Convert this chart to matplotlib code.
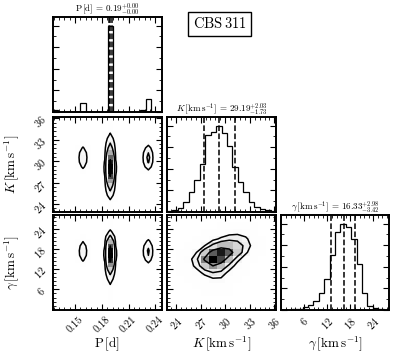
import numpy as np
import matplotlib
matplotlib.use("Agg")
import matplotlib.pyplot as plt
from matplotlib.colors import LinearSegmentedColormap
from matplotlib.ticker import AutoMinorLocator, MaxNLocator

plt.rcParams.update({
    "font.family": "serif",
    "font.serif": ["cmr10"],
    "mathtext.fontset": "cm",
    "axes.formatter.use_mathtext": True,
    "axes.unicode_minus": False,
})

# ---------------- data ----------------
P_range = (0.1253, 0.2473)
K_range = (22.9, 36.2)
g_range = (-0.1, 28.1)

P_ticks = [0.15, 0.18, 0.21, 0.24]
K_ticks = [24, 27, 30, 33, 36]
g_ticks = [6, 12, 18, 24]
P_ticklabels = ["0.15", "0.18", "0.21", "0.24"]

P_counts = [20, 0, 0, 0, 0, 105, 0, 0, 0, 0, 1000, 0, 0, 0, 0, 0, 20, 150, 0, 0]
K_counts = [0.01, 0.02, 0.05, 0.12, 0.23, 0.37, 0.56, 0.89, 0.93, 1.00,
            0.91, 0.77, 0.52, 0.35, 0.23, 0.12, 0.06, 0.04, 0.02, 0.01]
g_counts = [0.005, 0.005, 0.01, 0.015, 0.04, 0.06, 0.11, 0.20, 0.36, 0.64,
            0.90, 1.00, 0.96, 0.82, 0.53, 0.20, 0.05, 0.02, 0.01, 0.0]
# K and gamma profiles of the minor period modes
K_side = [0, 0, 0, 0, 0, 0, 0, 0, 0, 0.35, 0.85, 1.0, 0.75, 0.3, 0, 0, 0, 0, 0, 0]
g_side = [0, 0, 0, 0, 0, 0, 0, 0, 0, 0, 0.35, 0.85, 1.0, 0.65, 0.25, 0, 0, 0, 0, 0]

P_quant = [0.1880, 0.1894, 0.1908]
K_quant = [27.46, 29.19, 31.22]
g_quant = [12.91, 16.33, 19.31]

# K-gamma joint density (rows: gamma cells low->high, cols: K cells)
Kg_K_edges = [24, 25, 26, 27, 28, 29, 30, 31, 32, 33, 34, 35]
Kg_g_edges = [4, 6, 8, 10, 12, 14, 16, 18, 20, 22, 24, 26]
Kg_density = [
    [0, 0, 0, 1, 1, 1, 1, 0, 0, 0, 0],
    [0, 0, 1, 2, 4, 4, 2, 0, 0, 0, 0],
    [0, 1, 2, 6, 12, 12, 5, 1, 0, 0, 0],
    [1, 2, 8, 20, 30, 25, 10, 3, 1, 0, 0],
    [2, 6, 20, 45, 65, 50, 25, 8, 2, 0, 0],
    [2, 8, 25, 70, 100, 85, 50, 20, 6, 1, 0],
    [1, 4, 15, 45, 80, 95, 80, 45, 18, 4, 1],
    [0, 1, 5, 15, 35, 50, 50, 40, 25, 8, 1],
    [0, 0, 1, 4, 10, 18, 25, 25, 18, 6, 1],
    [0, 0, 0, 1, 2, 4, 8, 10, 8, 3, 0],
    [0, 0, 0, 0, 0, 1, 2, 3, 2, 1, 0],
]

titles = [r"$\mathrm{P\,[d]}\,=\,0.19^{+0.00}_{-0.00}$",
          r"$K\,[\mathrm{km\,s^{-1}}]\,=\,29.19^{+2.03}_{-1.73}$",
          r"$\gamma\,[\mathrm{km\,s^{-1}}]\,=\,16.33^{+2.98}_{-3.42}$"]
labels = [r"$\mathrm{P\,[d]}$", r"$K\,[\mathrm{km\,s^{-1}}]$", r"$\gamma\,[\mathrm{km\,s^{-1}}]$"]
star_name = r"$\mathrm{CBS\,311}$"

# ---------------- helpers ----------------
nb = 20
P_edges = np.linspace(*P_range, nb + 1)
K_edges = np.linspace(*K_range, nb + 1)
g_edges = np.linspace(*g_range, nb + 1)

density_cmap = LinearSegmentedColormap.from_list("dens", [(1, 1, 1, 0), (0, 0, 0, 1)])


def kernel(sigma):
    r = max(1, int(4 * sigma))
    k = np.exp(-0.5 * (np.arange(-r, r + 1) / sigma) ** 2)
    return k / k.sum()


def smooth(H, sx, sy):
    kx, ky = kernel(sx), kernel(sy)
    out = np.apply_along_axis(lambda v: np.convolve(v, kx, mode="same"), 0, H)
    out = np.apply_along_axis(lambda v: np.convolve(v, ky, mode="same"), 1, out)
    return out


def joint_from_modes(xcounts, main_profile, side_profile):
    xcounts = np.asarray(xcounts, float)
    main = np.asarray(main_profile, float)
    side = np.asarray(side_profile, float)
    imax = int(np.argmax(xcounts))
    H = np.zeros((len(xcounts), len(main)))
    for i, c in enumerate(xcounts):
        prof = main if i == imax else side
        H[i] = c * prof / prof.sum()
    return H


def levels_for(H):
    lv = 1.0 - np.exp(-0.5 * np.arange(0.5, 2.1, 0.5) ** 2)
    Hf = H.flatten()
    Hs = np.sort(Hf)[::-1]
    sm = np.cumsum(Hs)
    sm /= sm[-1]
    V = np.empty(len(lv))
    for i, v0 in enumerate(lv):
        try:
            V[i] = Hs[sm <= v0][-1]
        except IndexError:
            V[i] = Hs[0]
    V.sort()
    m = np.diff(V) == 0
    while np.any(m):
        V[np.where(m)[0][0]] *= 0.9
        m = np.diff(V) == 0
    return V


def hist2d(ax, xe, ye, H):
    xe = np.asarray(xe, float)
    ye = np.asarray(ye, float)
    xc = 0.5 * (xe[1:] + xe[:-1])
    yc = 0.5 * (ye[1:] + ye[:-1])
    ax.pcolormesh(xe, ye, H.T, cmap=density_cmap, vmin=0, vmax=H.max(), shading="flat")
    dx = xc[1] - xc[0]
    dy = yc[1] - yc[0]
    xc2 = np.concatenate([[xc[0] - dx], xc, [xc[-1] + dx]])
    yc2 = np.concatenate([[yc[0] - dy], yc, [yc[-1] + dy]])
    H2 = np.pad(H, 1)
    ax.contour(xc2, yc2, H2.T, levels_for(H), colors="k", linewidths=1.1)


def style(ax):
    ax.tick_params(which="both", direction="in", top=True, right=True)
    ax.tick_params(which="major", length=4, width=0.8)
    ax.tick_params(which="minor", length=2, width=0.6)
    for s in ax.spines.values():
        s.set_linewidth(1.4)


def hist1d(ax, counts, edges, quant, rng):
    counts = np.asarray(counts, float)
    ax.stairs(counts, edges, color="k", lw=0.9)
    for q in quant:
        ax.axvline(q, color="k", ls="--", lw=1.1)
    ax.set_xlim(rng)
    ax.set_ylim(0, 1.1 * counts.max())
    ax.yaxis.set_major_locator(MaxNLocator(5))
    ax.yaxis.set_minor_locator(AutoMinorLocator(2))
    ax.set_yticklabels([])


# ---------------- figure ----------------
fig = plt.figure(figsize=(4.11, 3.57), dpi=100)
W, Hh = 411.0, 357.0
cols = [(53, 109), (167, 109), (281, 108)]
rows = [(17, 95), (117, 95), (215, 95)]


def add_ax(r, c):
    x0, w = cols[c]
    y0, h = rows[r]
    return fig.add_axes([x0 / W, 1 - (y0 + h) / Hh, w / W, h / Hh])


ranges = [P_range, K_range, g_range]
ticks = [P_ticks, K_ticks, g_ticks]

axes = {}
for r in range(3):
    for c in range(r + 1):
        ax = add_ax(r, c)
        axes[(r, c)] = ax
        style(ax)

# diagonal histograms
hist1d(axes[(0, 0)], P_counts, P_edges, P_quant, P_range)
hist1d(axes[(1, 1)], K_counts, K_edges, K_quant, K_range)
hist1d(axes[(2, 2)], g_counts, g_edges, g_quant, g_range)

# joint panels
H_PK = smooth(joint_from_modes(P_counts, K_counts, K_side), 0.45, 0.8)
hist2d(axes[(1, 0)], P_edges, K_edges, H_PK)
H_Pg = smooth(joint_from_modes(P_counts, g_counts, g_side), 0.45, 0.8)
hist2d(axes[(2, 0)], P_edges, g_edges, H_Pg)
H_Kg = np.asarray(Kg_density, float).T
hist2d(axes[(2, 1)], Kg_K_edges, Kg_g_edges, H_Kg)

for (r, c), ax in axes.items():
    ax.set_xlim(ranges[c])
    ax.set_xticks(ticks[c])
    ax.xaxis.set_minor_locator(AutoMinorLocator(5))
    if r != c:
        ax.set_ylim(ranges[r])
        ax.set_yticks(ticks[r])
        ax.yaxis.set_minor_locator(AutoMinorLocator(5))
    if r < 2:
        ax.set_xticklabels([])
    else:
        if c == 0:
            ax.set_xticklabels(P_ticklabels)
        for l in ax.get_xticklabels():
            l.set_rotation(45)
            l.set_fontsize(7.5)
    if c == 0 and r > 0:
        for l in ax.get_yticklabels():
            l.set_rotation(45)
            l.set_fontsize(7.5)
    elif r != c:
        ax.set_yticklabels([])
    if r == c:
        ax.set_title(titles[c], fontsize=6.5, pad=3)

# axis labels
for c in range(3):
    x0, w = cols[c]
    fig.text((x0 + w / 2) / W, 1 - 344 / Hh, labels[c], ha="center", va="center", fontsize=9.5)
for r in (1, 2):
    y0, h = rows[r]
    fig.text(12 / W, 1 - (y0 + h / 2) / Hh, labels[r], ha="center", va="center",
             rotation=90, fontsize=9.5)

fig.text(219.5 / W, 1 - 24 / Hh, star_name, ha="center", va="center", fontsize=10.5,
         bbox=dict(boxstyle="square,pad=0.3", fc="white", ec="k", lw=1.0))

fig.savefig("out.png", dpi=100)
